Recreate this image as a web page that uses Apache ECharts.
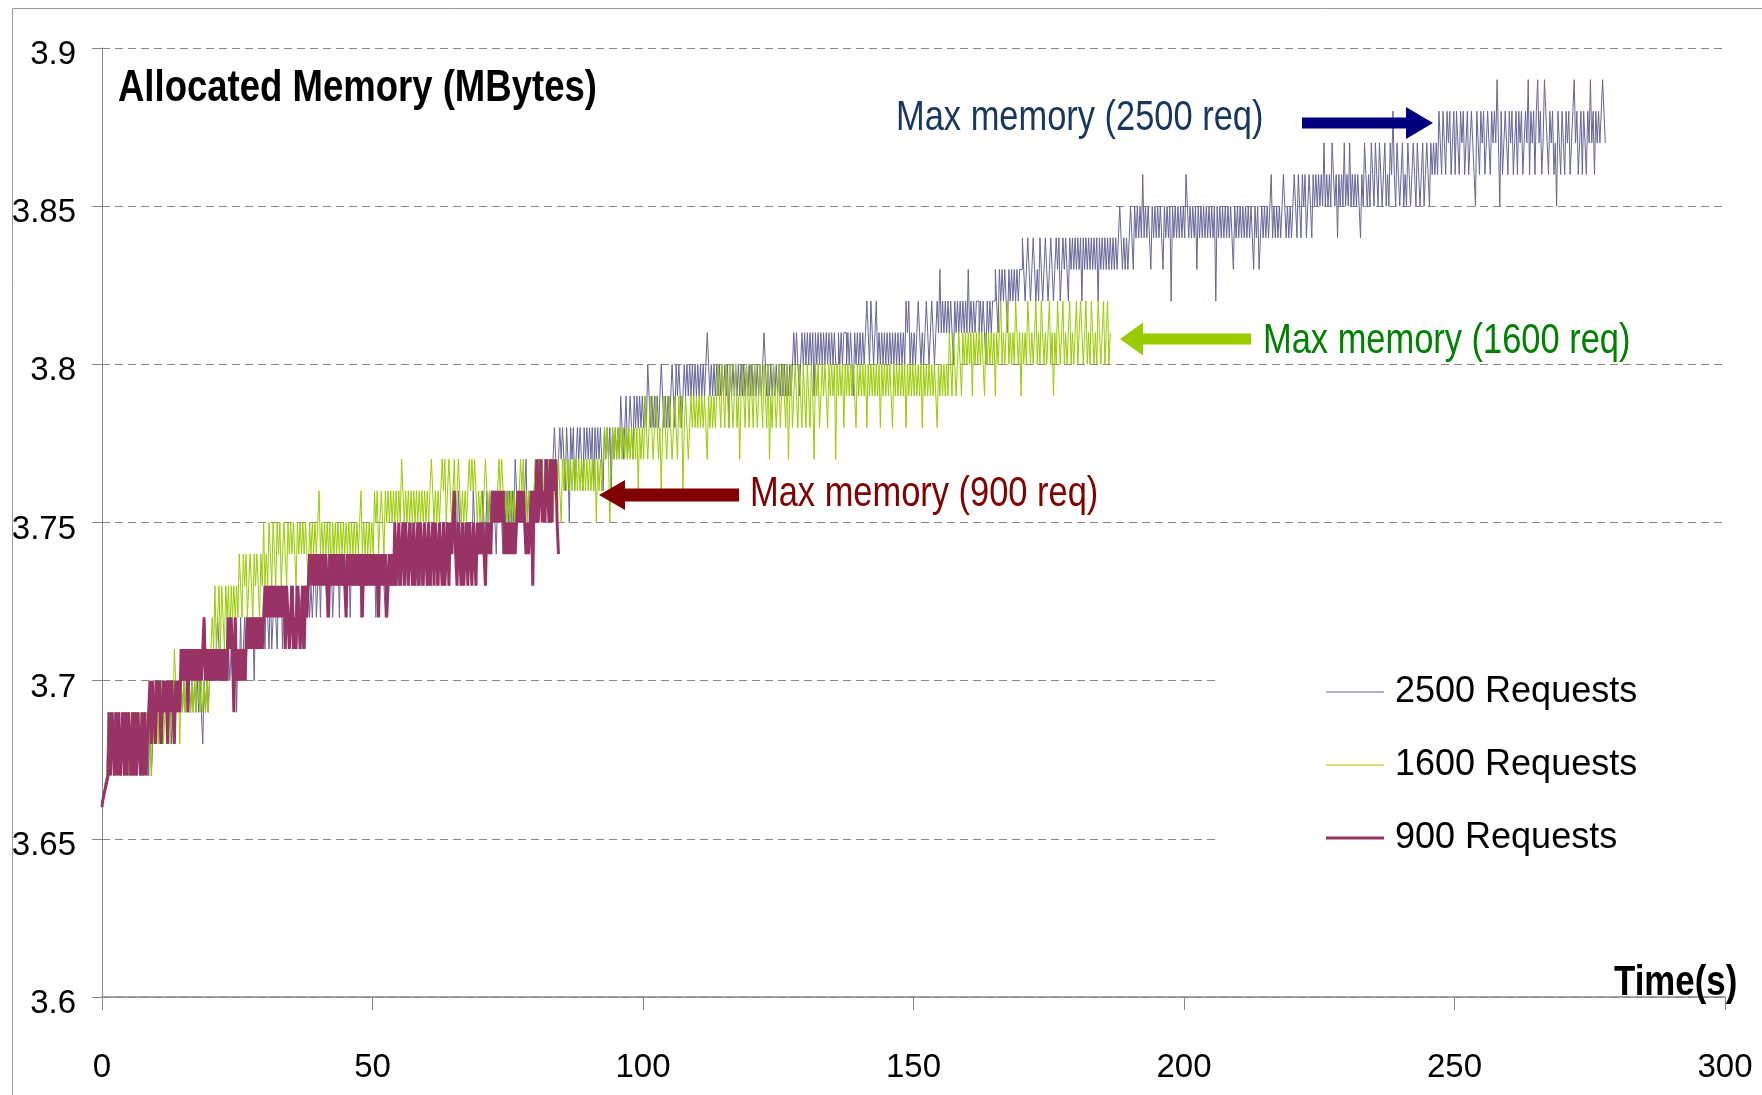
<!DOCTYPE html>
<html><head><meta charset="utf-8">
<script src="https://cdn.jsdelivr.net/npm/echarts@6/dist/echarts.min.js"></script>
<style>html,body{margin:0;padding:0;background:#fff}#c{width:1762px;height:1095px}</style>
</head><body><div id="c"></div>
<script>
const FONT = "'Liberation Sans', Arial, sans-serif";

const seriesNames = ['2500 Requests', '1600 Requests', '900 Requests'];
const seriesColors = ['#666699', '#99cc00', '#993366'];
const xTickValues = [0, 50, 100, 150, 200, 250, 300];
const yTickLabels = ['3.6', '3.65', '3.7', '3.75', '3.8', '3.85', '3.9'];

// sampling interval (seconds) of each recorded series
const step2500 = 0.25;
const step1600 = 0.25;
const step900 = 0.25;

// Allocated memory (MBytes), 2500 requests, t = 0 .. 278 s (one row = 5 s)
const mem2500 = [
3.66,3.662,3.665,3.668,3.67,3.69,3.67,3.68,3.69,3.67,3.69,3.68,3.67,3.69,3.67,3.69,3.68,3.67,3.69,3.67,
3.69,3.67,3.68,3.69,3.67,3.69,3.67,3.69,3.68,3.67,3.69,3.67,3.69,3.68,3.69,3.67,3.69,3.67,3.68,3.69,
3.70,3.69,3.70,3.69,3.70,3.68,3.70,3.69,3.70,3.69,3.70,3.69,3.68,3.70,3.69,3.70,3.69,3.70,3.69,3.70,
3.69,3.70,3.69,3.70,3.69,3.70,3.69,3.70,3.69,3.70,3.69,3.70,3.69,3.70,3.69,3.68,3.70,3.69,3.70,3.69,
3.70,3.71,3.70,3.71,3.70,3.71,3.72,3.71,3.70,3.71,3.70,3.71,3.70,3.72,3.71,3.70,3.71,3.70,3.71,3.72,
3.69,3.71,3.70,3.72,3.70,3.71,3.72,3.70,3.72,3.71,3.72,3.71,3.72,3.70,3.72,3.71,3.72,3.71,3.72,3.71,
3.72,3.71,3.73,3.72,3.71,3.73,3.71,3.72,3.73,3.72,3.71,3.73,3.72,3.73,3.71,3.73,3.72,3.73,3.72,3.71,
3.73,3.72,3.73,3.71,3.73,3.72,3.73,3.72,3.73,3.71,3.72,3.73,3.72,3.73,3.72,3.73,3.72,3.73,3.74,3.72,
3.73,3.74,3.72,3.74,3.73,3.74,3.73,3.72,3.74,3.73,3.74,3.72,3.73,3.74,3.73,3.74,3.72,3.74,3.73,3.74,
3.73,3.74,3.73,3.74,3.72,3.74,3.73,3.74,3.73,3.74,3.73,3.74,3.72,3.73,3.74,3.73,3.74,3.73,3.74,3.73,
3.74,3.73,3.74,3.72,3.74,3.73,3.74,3.73,3.74,3.73,3.72,3.74,3.73,3.74,3.73,3.74,3.73,3.74,3.73,3.74,
3.73,3.74,3.73,3.75,3.74,3.73,3.74,3.73,3.74,3.75,3.73,3.74,3.73,3.74,3.73,3.75,3.74,3.73,3.74,3.75,
3.74,3.73,3.75,3.74,3.73,3.75,3.74,3.75,3.73,3.74,3.75,3.74,3.73,3.75,3.74,3.75,3.74,3.73,3.75,3.74,
3.75,3.74,3.75,3.74,3.76,3.75,3.74,3.75,3.74,3.75,3.74,3.75,3.74,3.75,3.74,3.76,3.75,3.74,3.75,3.74,
3.75,3.74,3.76,3.75,3.74,3.76,3.75,3.76,3.74,3.75,3.76,3.75,3.74,3.76,3.75,3.76,3.75,3.74,3.76,3.75,
3.76,3.75,3.76,3.75,3.76,3.75,3.77,3.76,3.75,3.76,3.75,3.76,3.75,3.76,3.77,3.75,3.76,3.75,3.76,3.75,
3.76,3.77,3.75,3.77,3.76,3.77,3.76,3.75,3.77,3.76,3.77,3.76,3.77,3.76,3.77,3.78,3.77,3.76,3.77,3.78,
3.77,3.78,3.77,3.76,3.78,3.77,3.75,3.78,3.77,3.78,3.76,3.77,3.78,3.77,3.78,3.77,3.76,3.78,3.77,3.78,
3.77,3.78,3.77,3.78,3.76,3.78,3.77,3.78,3.77,3.78,3.77,3.76,3.78,3.77,3.78,3.77,3.78,3.76,3.78,3.77,
3.78,3.77,3.78,3.77,3.79,3.78,3.77,3.78,3.79,3.77,3.78,3.79,3.78,3.77,3.79,3.78,3.79,3.78,3.79,3.78,
3.79,3.78,3.79,3.78,3.80,3.79,3.78,3.79,3.78,3.79,3.78,3.79,3.78,3.79,3.80,3.79,3.78,3.79,3.78,3.79,
3.78,3.79,3.80,3.79,3.78,3.80,3.79,3.80,3.79,3.78,3.79,3.80,3.79,3.80,3.79,3.80,3.79,3.80,3.79,3.80,
3.79,3.80,3.79,3.80,3.79,3.80,3.79,3.80,3.81,3.80,3.79,3.80,3.79,3.80,3.79,3.80,3.79,3.80,3.79,3.80,
3.79,3.80,3.79,3.80,3.78,3.80,3.79,3.80,3.79,3.80,3.79,3.80,3.79,3.80,3.79,3.80,3.79,3.80,3.79,3.80,
3.79,3.80,3.79,3.80,3.79,3.80,3.79,3.80,3.79,3.80,3.81,3.80,3.79,3.80,3.79,3.80,3.79,3.80,3.79,3.80,
3.79,3.80,3.79,3.80,3.79,3.80,3.79,3.80,3.79,3.80,3.79,3.80,3.81,3.80,3.81,3.80,3.79,3.80,3.81,3.80,
3.81,3.80,3.81,3.80,3.81,3.80,3.81,3.79,3.81,3.80,3.81,3.80,3.81,3.80,3.81,3.80,3.81,3.80,3.81,3.80,
3.81,3.80,3.81,3.80,3.80,3.81,3.80,3.81,3.80,3.81,3.81,3.80,3.81,3.80,3.81,3.80,3.79,3.81,3.80,3.81,
3.80,3.81,3.80,3.81,3.80,3.81,3.82,3.81,3.80,3.82,3.81,3.80,3.81,3.82,3.80,3.81,3.80,3.81,3.80,3.81,
3.80,3.81,3.80,3.81,3.80,3.81,3.80,3.81,3.80,3.81,3.80,3.81,3.80,3.81,3.80,3.82,3.81,3.82,3.80,3.81,
3.80,3.81,3.80,3.81,3.82,3.81,3.80,3.81,3.80,3.81,3.82,3.81,3.80,3.81,3.82,3.81,3.80,3.81,3.82,3.81,
3.83,3.81,3.82,3.81,3.82,3.81,3.82,3.81,3.82,3.81,3.80,3.82,3.81,3.82,3.81,3.82,3.81,3.82,3.81,3.82,
3.81,3.83,3.81,3.82,3.81,3.82,3.81,3.82,3.82,3.81,3.82,3.81,3.82,3.81,3.80,3.82,3.81,3.82,3.81,3.82,
3.82,3.83,3.82,3.81,3.83,3.82,3.83,3.82,3.83,3.82,3.81,3.83,3.82,3.83,3.82,3.83,3.82,3.83,3.82,3.83,
3.83,3.84,3.83,3.82,3.83,3.84,3.83,3.82,3.83,3.84,3.83,3.82,3.83,3.82,3.84,3.83,3.82,3.83,3.84,3.83,
3.82,3.83,3.84,3.83,3.82,3.83,3.84,3.83,3.84,3.82,3.83,3.84,3.83,3.84,3.83,3.82,3.84,3.83,3.84,3.83,
3.84,3.83,3.84,3.83,3.84,3.82,3.84,3.83,3.84,3.83,3.84,3.83,3.84,3.83,3.84,3.83,3.84,3.82,3.84,3.83,
3.84,3.83,3.84,3.83,3.84,3.83,3.84,3.83,3.84,3.83,3.84,3.83,3.84,3.85,3.84,3.83,3.84,3.83,3.84,3.83,
3.84,3.85,3.84,3.83,3.85,3.84,3.85,3.84,3.85,3.84,3.86,3.84,3.85,3.84,3.85,3.84,3.83,3.85,3.84,3.85,
3.84,3.85,3.84,3.85,3.84,3.83,3.85,3.84,3.85,3.84,3.85,3.82,3.85,3.84,3.85,3.84,3.85,3.84,3.85,3.84,
3.85,3.84,3.86,3.85,3.84,3.85,3.84,3.85,3.84,3.85,3.83,3.85,3.84,3.85,3.84,3.85,3.84,3.85,3.84,3.85,
3.84,3.85,3.84,3.85,3.82,3.85,3.84,3.85,3.84,3.85,3.84,3.85,3.84,3.85,3.84,3.85,3.84,3.83,3.85,3.84,
3.85,3.84,3.85,3.84,3.85,3.84,3.85,3.84,3.85,3.84,3.85,3.84,3.83,3.85,3.84,3.85,3.83,3.84,3.85,3.84,
3.85,3.84,3.85,3.84,3.85,3.86,3.84,3.85,3.84,3.85,3.84,3.85,3.84,3.85,3.86,3.85,3.84,3.85,3.84,3.85,
3.84,3.85,3.86,3.85,3.84,3.86,3.85,3.84,3.86,3.85,3.86,3.84,3.85,3.86,3.85,3.84,3.86,3.85,3.86,3.85,
3.86,3.85,3.86,3.85,3.87,3.85,3.86,3.85,3.86,3.85,3.87,3.86,3.85,3.86,3.84,3.86,3.85,3.86,3.85,3.87,
3.85,3.86,3.85,3.87,3.85,3.86,3.85,3.86,3.85,3.86,3.85,3.84,3.86,3.85,3.87,3.86,3.85,3.86,3.85,3.87,
3.86,3.85,3.87,3.86,3.85,3.87,3.86,3.85,3.86,3.87,3.85,3.86,3.85,3.87,3.86,3.88,3.86,3.85,3.87,3.86,
3.85,3.86,3.87,3.85,3.86,3.85,3.87,3.86,3.85,3.86,3.87,3.86,3.85,3.87,3.86,3.85,3.86,3.87,3.85,3.86,
3.87,3.86,3.85,3.87,3.86,3.87,3.86,3.87,3.86,3.88,3.87,3.86,3.88,3.87,3.86,3.88,3.87,3.88,3.86,3.87,
3.88,3.86,3.88,3.87,3.86,3.88,3.87,3.88,3.86,3.87,3.88,3.86,3.87,3.88,3.87,3.86,3.85,3.88,3.87,3.86,
3.88,3.87,3.88,3.86,3.87,3.88,3.87,3.86,3.88,3.87,3.88,3.87,3.89,3.87,3.85,3.88,3.86,3.87,3.88,3.87,
3.86,3.88,3.87,3.88,3.86,3.87,3.88,3.86,3.88,3.87,3.88,3.86,3.87,3.88,3.87,3.89,3.86,3.88,3.87,3.88,
3.86,3.88,3.89,3.87,3.88,3.86,3.87,3.89,3.88,3.87,3.86,3.88,3.87,3.88,3.86,3.87,3.85,3.88,3.87,3.86,
3.88,3.87,3.86,3.88,3.87,3.88,3.86,3.87,3.88,3.89,3.87,3.88,3.86,3.87,3.88,3.86,3.88,3.87,3.86,3.88,
3.87,3.89,3.87,3.88,3.86,3.88,3.87,3.88,3.87,3.88,3.89,3.88,3.87
];

// Allocated memory (MBytes), 1600 requests, t = 0 .. 186.5 s (one row = 5 s)
const mem1600 = [
3.66,3.662,3.665,3.668,3.67,3.68,3.69,3.67,3.69,3.68,3.67,3.69,3.67,3.69,3.68,3.67,3.69,3.67,3.69,3.68,
3.67,3.69,3.68,3.67,3.69,3.67,3.69,3.68,3.69,3.67,3.69,3.67,3.68,3.69,3.67,3.69,3.68,3.67,3.69,3.68,
3.69,3.70,3.68,3.70,3.69,3.70,3.68,3.69,3.70,3.69,3.70,3.68,3.70,3.69,3.71,3.70,3.69,3.70,3.68,3.70,
3.69,3.70,3.69,3.70,3.69,3.70,3.69,3.70,3.69,3.70,3.69,3.71,3.70,3.69,3.70,3.69,3.70,3.69,3.70,3.69,
3.70,3.71,3.72,3.71,3.73,3.71,3.72,3.73,3.71,3.73,3.72,3.71,3.73,3.72,3.73,3.71,3.73,3.72,3.73,3.72,
3.73,3.72,3.74,3.73,3.72,3.74,3.73,3.74,3.72,3.73,3.74,3.73,3.72,3.74,3.73,3.74,3.73,3.72,3.74,3.73,
3.75,3.73,3.74,3.73,3.75,3.74,3.73,3.75,3.74,3.73,3.75,3.74,3.75,3.73,3.74,3.75,3.74,3.73,3.75,3.74,
3.75,3.74,3.75,3.74,3.73,3.75,3.74,3.75,3.74,3.75,3.74,3.75,3.74,3.73,3.75,3.74,3.75,3.74,3.75,3.74,
3.75,3.76,3.74,3.75,3.74,3.75,3.74,3.75,3.74,3.75,3.73,3.75,3.74,3.75,3.74,3.75,3.74,3.75,3.74,3.75,
3.74,3.75,3.74,3.75,3.74,3.75,3.74,3.75,3.74,3.75,3.74,3.75,3.76,3.74,3.75,3.74,3.75,3.74,3.75,3.74,
3.75,3.74,3.76,3.75,3.76,3.74,3.75,3.76,3.75,3.74,3.76,3.75,3.76,3.75,3.76,3.75,3.76,3.75,3.76,3.75,
3.76,3.75,3.77,3.76,3.75,3.76,3.75,3.76,3.75,3.76,3.75,3.76,3.75,3.76,3.75,3.76,3.75,3.76,3.75,3.76,
3.75,3.76,3.75,3.76,3.77,3.76,3.75,3.76,3.75,3.76,3.75,3.76,3.77,3.76,3.77,3.75,3.76,3.77,3.76,3.75,
3.76,3.77,3.75,3.76,3.77,3.76,3.75,3.76,3.75,3.76,3.75,3.76,3.77,3.76,3.77,3.76,3.77,3.76,3.75,3.76,
3.75,3.76,3.75,3.76,3.77,3.76,3.75,3.76,3.75,3.76,3.75,3.76,3.75,3.76,3.77,3.76,3.77,3.76,3.75,3.76,
3.75,3.76,3.75,3.76,3.75,3.76,3.75,3.76,3.75,3.76,3.77,3.76,3.77,3.75,3.76,3.75,3.76,3.75,3.76,3.75,
3.76,3.77,3.76,3.75,3.77,3.76,3.77,3.76,3.75,3.77,3.76,3.77,3.76,3.77,3.75,3.76,3.77,3.76,3.77,3.76,
3.75,3.77,3.76,3.77,3.76,3.77,3.76,3.77,3.76,3.77,3.76,3.77,3.76,3.77,3.76,3.77,3.76,3.77,3.76,3.77,
3.76,3.77,3.76,3.77,3.76,3.77,3.75,3.77,3.76,3.77,3.76,3.77,3.78,3.77,3.78,3.77,3.75,3.77,3.78,3.77,
3.78,3.77,3.78,3.77,3.78,3.77,3.78,3.77,3.78,3.77,3.78,3.77,3.78,3.77,3.78,3.77,3.78,3.76,3.78,3.77,
3.78,3.77,3.79,3.78,3.77,3.78,3.79,3.78,3.77,3.78,3.79,3.78,3.77,3.78,3.76,3.78,3.79,3.78,3.77,3.78,
3.79,3.78,3.77,3.78,3.79,3.78,3.77,3.79,3.78,3.79,3.76,3.78,3.79,3.78,3.77,3.78,3.79,3.78,3.79,3.78,
3.79,3.78,3.79,3.78,3.79,3.78,3.79,3.78,3.77,3.79,3.78,3.79,3.78,3.79,3.78,3.79,3.80,3.79,3.78,3.80,
3.79,3.78,3.80,3.79,3.78,3.80,3.79,3.78,3.79,3.80,3.78,3.79,3.77,3.79,3.80,3.79,3.78,3.80,3.79,3.78,
3.80,3.79,3.78,3.80,3.79,3.78,3.79,3.80,3.79,3.78,3.80,3.79,3.78,3.80,3.77,3.79,3.78,3.80,3.79,3.78,
3.79,3.80,3.78,3.79,3.80,3.79,3.78,3.80,3.77,3.79,3.80,3.78,3.79,3.80,3.79,3.78,3.80,3.79,3.78,3.80,
3.79,3.78,3.80,3.79,3.78,3.80,3.79,3.77,3.80,3.79,3.80,3.78,3.79,3.80,3.79,3.80,3.79,3.78,3.80,3.79,
3.80,3.79,3.80,3.77,3.80,3.79,3.80,3.79,3.80,3.78,3.80,3.79,3.80,3.79,3.80,3.79,3.80,3.79,3.78,3.80,
3.79,3.80,3.79,3.80,3.79,3.80,3.78,3.80,3.79,3.80,3.79,3.80,3.79,3.80,3.79,3.80,3.78,3.80,3.79,3.80,
3.79,3.80,3.79,3.80,3.79,3.78,3.80,3.79,3.80,3.79,3.80,3.79,3.80,3.79,3.80,3.78,3.80,3.79,3.80,3.79,
3.80,3.79,3.80,3.79,3.80,3.79,3.80,3.78,3.80,3.79,3.80,3.79,3.80,3.79,3.80,3.79,3.80,3.79,3.78,3.80,
3.79,3.80,3.79,3.80,3.79,3.80,3.79,3.81,3.80,3.79,3.81,3.80,3.79,3.80,3.81,3.80,3.79,3.81,3.80,3.81,
3.80,3.81,3.80,3.81,3.79,3.81,3.80,3.81,3.80,3.81,3.80,3.81,3.80,3.79,3.81,3.80,3.81,3.80,3.81,3.80,
3.81,3.79,3.81,3.80,3.81,3.82,3.80,3.81,3.80,3.81,3.82,3.80,3.81,3.80,3.81,3.80,3.82,3.81,3.80,3.81,
3.79,3.81,3.80,3.81,3.80,3.82,3.81,3.80,3.81,3.80,3.81,3.82,3.80,3.81,3.80,3.82,3.81,3.80,3.81,3.80,
3.81,3.82,3.80,3.81,3.79,3.81,3.80,3.82,3.81,3.80,3.81,3.82,3.80,3.81,3.80,3.81,3.82,3.80,3.81,3.80,
3.81,3.82,3.80,3.81,3.82,3.81,3.80,3.81,3.82,3.80,3.81,3.80,3.82,3.81,3.80,3.81,3.80,3.82,3.81,3.80,
3.81,3.82,3.80,3.81,3.82,3.80,3.81
];

// Allocated memory (MBytes), 900 requests, t = 0 .. 84.5 s (one row = 5 s)
const mem900 = [
3.66,3.662,3.664,3.666,3.668,3.67,3.69,3.67,3.69,3.68,3.67,3.69,3.67,3.69,3.67,3.68,3.69,3.67,3.69,3.67,
3.69,3.68,3.67,3.69,3.67,3.69,3.67,3.69,3.68,3.67,3.69,3.67,3.69,3.67,3.68,3.69,3.70,3.68,3.70,3.69,
3.68,3.70,3.69,3.70,3.68,3.69,3.70,3.69,3.70,3.68,3.70,3.69,3.70,3.69,3.68,3.70,3.69,3.70,3.69,3.71,
3.70,3.71,3.70,3.71,3.69,3.71,3.70,3.71,3.70,3.71,3.70,3.71,3.70,3.71,3.70,3.71,3.72,3.70,3.71,3.70,
3.71,3.70,3.71,3.70,3.71,3.70,3.71,3.70,3.71,3.70,3.71,3.70,3.71,3.70,3.72,3.71,3.72,3.71,3.69,3.72,
3.70,3.71,3.70,3.71,3.70,3.71,3.70,3.71,3.72,3.71,3.72,3.71,3.72,3.71,3.72,3.71,3.72,3.71,3.72,3.71,
3.72,3.73,3.72,3.73,3.72,3.73,3.72,3.73,3.72,3.73,3.72,3.73,3.72,3.73,3.72,3.73,3.71,3.73,3.72,3.71,
3.72,3.73,3.71,3.72,3.71,3.73,3.72,3.71,3.72,3.73,3.71,3.73,3.72,3.73,3.74,3.73,3.74,3.73,3.74,3.73,
3.74,3.73,3.74,3.73,3.74,3.73,3.74,3.73,3.72,3.74,3.73,3.74,3.73,3.74,3.73,3.74,3.73,3.74,3.73,3.74,
3.73,3.72,3.74,3.73,3.74,3.73,3.74,3.73,3.74,3.73,3.74,3.73,3.74,3.72,3.74,3.73,3.74,3.73,3.74,3.73,
3.74,3.73,3.74,3.73,3.74,3.72,3.74,3.73,3.74,3.73,3.74,3.72,3.73,3.74,3.73,3.74,3.73,3.75,3.73,3.74,
3.75,3.73,3.74,3.75,3.73,3.75,3.74,3.73,3.75,3.74,3.73,3.75,3.73,3.74,3.75,3.73,3.75,3.74,3.73,3.75,
3.74,3.73,3.75,3.73,3.74,3.75,3.73,3.75,3.74,3.73,3.75,3.74,3.73,3.75,3.73,3.74,3.75,3.73,3.75,3.74,
3.75,3.76,3.74,3.73,3.75,3.74,3.73,3.75,3.73,3.74,3.75,3.73,3.75,3.74,3.73,3.75,3.74,3.73,3.75,3.74,
3.75,3.74,3.75,3.74,3.73,3.75,3.74,3.75,3.74,3.76,3.75,3.76,3.75,3.76,3.75,3.76,3.75,3.76,3.74,3.75,
3.74,3.75,3.74,3.75,3.74,3.75,3.74,3.75,3.76,3.75,3.76,3.75,3.76,3.75,3.74,3.75,3.74,3.75,3.76,3.73,
3.76,3.75,3.77,3.75,3.76,3.77,3.75,3.76,3.75,3.77,3.76,3.75,3.77,3.75,3.77,3.76,3.77,3.75,3.74
];

const toPoints = (vals, step) => vals.map((v, i) => [i * step, v]);

const chart = echarts.init(document.getElementById('c'), null, { renderer: 'canvas' });

const axisGray = '#868686';

function arrowPoly(x0, xHead, xTip, yc, hs, hh) {
  return [[x0, yc - hs], [xHead, yc - hs], [xHead, yc - hh], [xTip, yc], [xHead, yc + hh], [xHead, yc + hs], [x0, yc + hs]];
}
function label(text, x, y, size, sx, color, bold) {
  return { type: 'text', z: 10, x: x, y: y, scaleX: sx, scaleY: 1, silent: true,
    style: { text: text, fill: color, font: (bold ? 'bold ' : '') + size + 'px ' + FONT,
      align: 'left', verticalAlign: 'middle' } };
}

const option = {
  animation: false,
  backgroundColor: '#ffffff',
  grid: { left: 102, right: 37, top: 48, bottom: 98, containLabel: false },
  xAxis: {
    type: 'value', min: xTickValues[0], max: xTickValues[xTickValues.length - 1], interval: 50,
    axisLine: { show: true, lineStyle: { color: axisGray, width: 1.5 } },
    axisTick: { show: true, length: 13, lineStyle: { color: axisGray } },
    splitLine: { show: false },
    axisLabel: { fontSize: 33, color: '#000', fontFamily: FONT, margin: 54 }
  },
  yAxis: {
    type: 'value', min: 3.6, max: 3.9, interval: 0.05,
    axisLine: { show: true, lineStyle: { color: axisGray, width: 1 } },
    axisTick: { show: true, length: 10, lineStyle: { color: axisGray } },
    splitLine: { show: true, lineStyle: { color: axisGray, type: [8, 5], width: 1 } },
    axisLabel: {
      margin: 26,
      formatter: (v) => { const s = String(+v.toFixed(2)); return yTickLabels.includes(s) ? '{v|' + s + '}' : ''; },
      rich: { v: { fontSize: 33, color: '#000', fontFamily: FONT, padding: [14, 0, 0, 0] } }
    }
  },
  legend: {
    orient: 'vertical', left: 1216, top: 640,
    padding: [27, 160, 22, 110],
    backgroundColor: '#ffffff',
    itemWidth: 58, itemHeight: 14, itemGap: 23,
    textStyle: { fontSize: 36, fontFamily: FONT, color: '#000', lineHeight: 50, padding: [0, 0, 0, 6] },
    data: [
      { name: seriesNames[0], icon: 'path://M0,6.5L58,6.5L58,7.5L0,7.5Z', itemStyle: { color: seriesColors[0] } },
      { name: seriesNames[1], icon: 'path://M0,6.5L58,6.5L58,7.5L0,7.5Z', itemStyle: { color: seriesColors[1] } },
      { name: seriesNames[2], icon: 'path://M0,5.5L58,5.5L58,8.5L0,8.5Z', itemStyle: { color: seriesColors[2] } }
    ],
    z: 5
  },
  series: [
    { name: seriesNames[0], type: 'line', step: 'middle', data: toPoints(mem2500, step2500), symbol: 'none', showSymbol: false,
      lineStyle: { width: 1, color: seriesColors[0] }, itemStyle: { color: seriesColors[0] }, z: 2 },
    { name: seriesNames[1], type: 'line', step: 'middle', data: toPoints(mem1600, step1600), symbol: 'none', showSymbol: false,
      lineStyle: { width: 1, color: seriesColors[1] }, itemStyle: { color: seriesColors[1] }, z: 3 },
    { name: seriesNames[2], type: 'line', step: 'middle', data: toPoints(mem900, step900), symbol: 'none', showSymbol: false,
      lineStyle: { width: 3, color: seriesColors[2] }, itemStyle: { color: seriesColors[2] }, z: 4 }
  ],
  graphic: [
    { type: 'rect', z: -10, silent: true, shape: { x: 12.5, y: 8.5, width: 1800, height: 1200 },
      style: { fill: 'none', stroke: '#999999', lineWidth: 1 } },
    label('Allocated Memory (MBytes)', 118, 89, 44, 0.83, '#000', true),
    label('Time(s)', 1614, 983, 43, 0.81, '#000', true),
    label('Max memory (2500 req)', 896, 118, 42, 0.82, '#17375e', false),
    { type: 'polygon', z: 10, shape: { points: arrowPoly(1302, 1406, 1433, 123, 5.5, 16) }, style: { fill: '#000080' } },
    label('Max memory (1600 req)', 1263, 341, 42, 0.82, '#008000', false),
    { type: 'polygon', z: 10, shape: { points: arrowPoly(1251, 1143, 1120, 339, 5.5, 16.5) }, style: { fill: '#99cc00' } },
    label('Max memory (900 req)', 750, 494, 42, 0.82, '#800000', false),
    { type: 'polygon', z: 10, shape: { points: arrowPoly(739, 625, 599, 495, 6.5, 15) }, style: { fill: '#800000' } }
  ]
};
chart.setOption(option);
</script>
</body></html>
